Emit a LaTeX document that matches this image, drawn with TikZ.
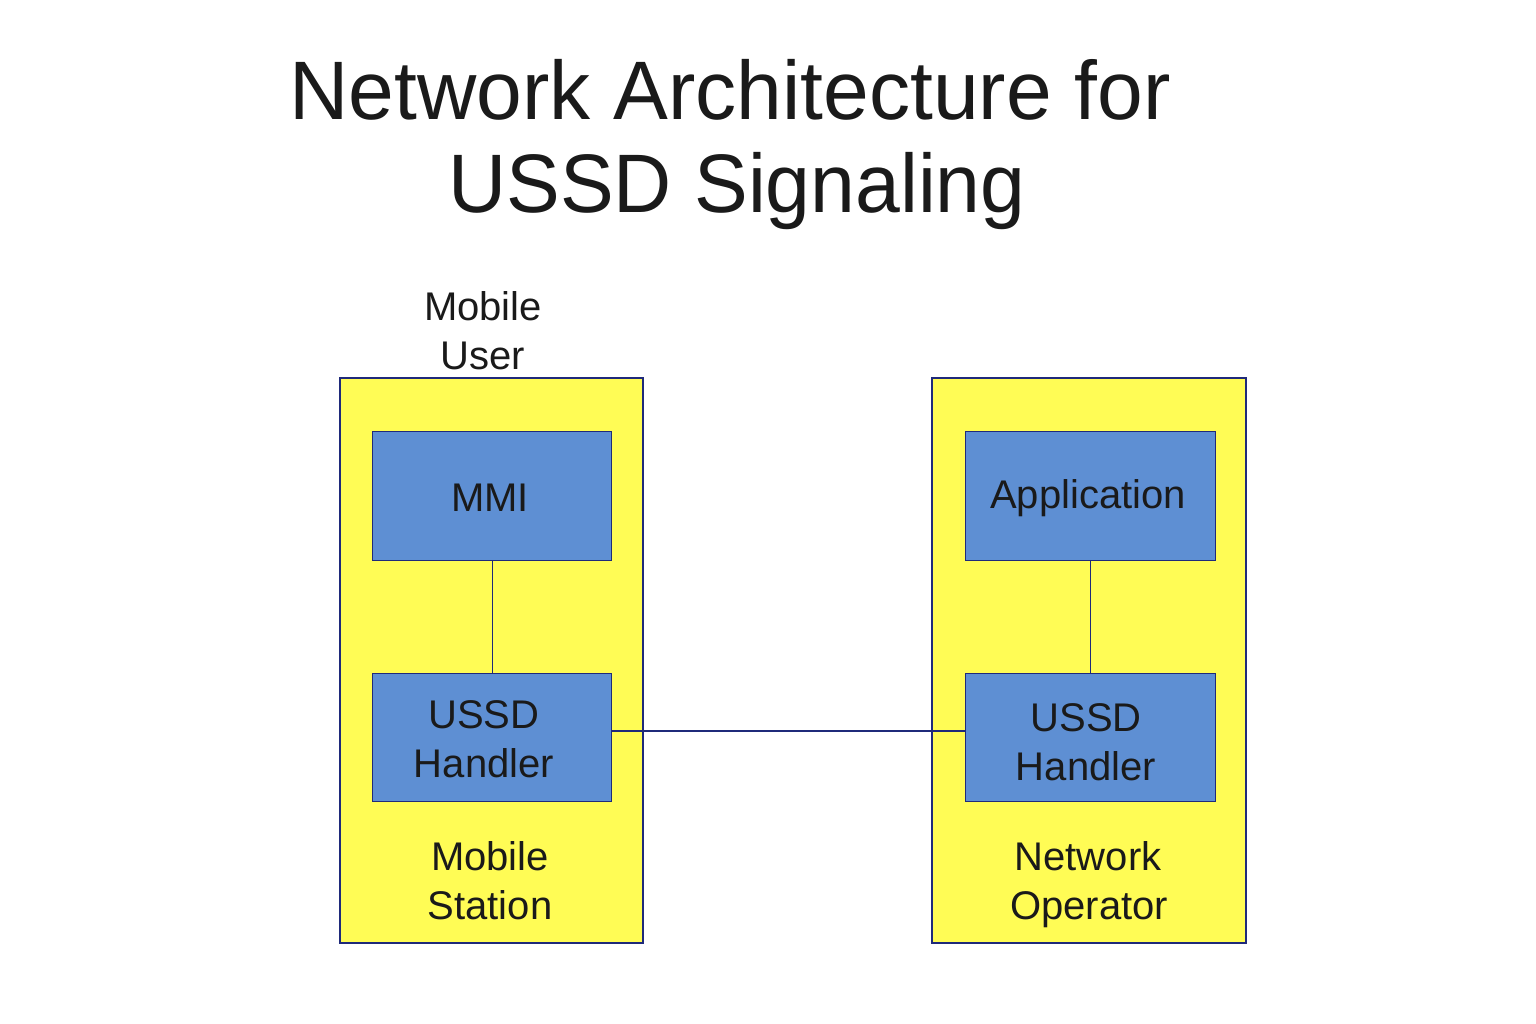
\documentclass[tikz,border=0pt]{standalone}
\usepackage{fontspec}
\setmainfont{Liberation Sans}
\definecolor{ylw}{HTML}{FFFC55}
\definecolor{blu}{HTML}{5E8FD3}
\definecolor{nav}{HTML}{1F2A7A}
\definecolor{txt}{HTML}{1A1A1A}
\begin{document}
\begin{tikzpicture}[x=1pt,y=-1pt,
  outer/.style={draw=nav,fill=ylw,line width=1.3pt},
  inner/.style={draw=nav,fill=blu,line width=1.3pt},
  conn/.style={draw=nav,line width=1.2pt},
  lbl/.style={text=txt,align=center,inner sep=0pt,font=\fontsize{40}{49}\selectfont},
  ttl/.style={text=txt,align=center,inner sep=0pt,font=\fontsize{83}{93}\selectfont}]
\useasboundingbox[fill=white] (0,0) rectangle (1536,1024);
\node[ttl,anchor=base,xscale=0.99] (t1) at (730,120) {Network Architecture for};
\node[ttl,anchor=base,xscale=0.97] (t2) at (737,213) {USSD Signaling};
\node[lbl,anchor=base] (mu1) at (483,320) {Mobile};
\node[lbl,anchor=base] (mu2) at (483,369) {User};
% outer boxes
\draw[outer] (340,378) rectangle (643,943);
\draw[outer] (932,378) rectangle (1246,943);
% inner boxes
\node[inner,minimum width=239pt,minimum height=129pt,anchor=north west] (mmi) at (372,431) {};
\node[inner,minimum width=239pt,minimum height=128pt,anchor=north west] (lh) at (372,673) {};
\node[inner,minimum width=250pt,minimum height=129pt,anchor=north west] (app) at (965,431) {};
\node[inner,minimum width=250pt,minimum height=128pt,anchor=north west] (rh) at (965,673) {};
% connectors
\draw[conn] (mmi.south) -- (lh.north);
\draw[conn] (app.south) -- (rh.north);
\draw[conn] (lh.east |- 0,731) -- (rh.west |- 0,731);
% labels
\node[lbl,anchor=base] (l1) at (490,511) {MMI};
\node[lbl,anchor=base] (l2a) at (484,728) {USSD};
\node[lbl,anchor=base] (l2b) at (484,777) {Handler};
\node[lbl,anchor=base] (l3) at (1088,508) {Application};
\node[lbl,anchor=base] (l4a) at (1086,731) {USSD};
\node[lbl,anchor=base] (l4b) at (1086,780) {Handler};
\node[lbl,anchor=base] (l5a) at (490,870) {Mobile};
\node[lbl,anchor=base] (l5b) at (490,919) {Station};
\node[lbl,anchor=base] (l6a) at (1088,870) {Network};
\node[lbl,anchor=base] (l6b) at (1089,919) {Operator};
\end{tikzpicture}
\end{document}
